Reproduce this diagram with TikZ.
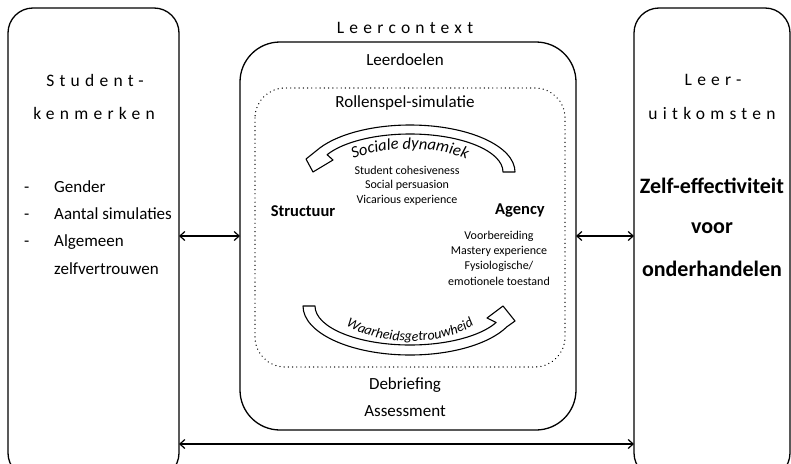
\documentclass[tikz,border=0pt]{standalone}
\usepackage{fontspec}
\setmainfont{Carlito}
\usetikzlibrary{arrows.meta,decorations.text}

\newcommand{\fs}[1]{\fontsize{#1}{#1}\selectfont}
\newcommand{\spaced}{\addfontfeature{LetterSpace=30}}

\tikzset{
  panel/.style={draw, line width=1.3pt, rounded corners=#1},
  dotbox/.style={draw, line width=1.4pt, dash pattern=on 0.01pt off 4.2pt, line cap=round, rounded corners=30pt},
  link/.style={line width=1.2pt, {Straight Barb[length=5pt,width=9pt]}-{Straight Barb[length=5pt,width=9pt]}},
  band/.style={draw, line width=1.1pt, fill=white, line join=round},
  title/.style={font=\fs{17.5}\spaced, inner sep=0pt},
  label/.style={font=\fs{17}, inner sep=0pt},
  listitem/.style={font=\fs{17}, inner sep=0pt, anchor=base west},
  small/.style={font=\fs{12}, inner sep=0pt},
  strong/.style={font=\fs{16.5}\bfseries, inner sep=0pt},
  outcome/.style={font=\fs{22}\bfseries, inner sep=0pt},
}

\begin{document}
\begin{tikzpicture}[x=1pt, y=-1pt]
  \clip (0,0) rectangle (791,463);
  \fill[white] (0,0) rectangle (791,463);

  % three main panels and the inner simulation frame
  \draw[panel=25pt] (8,8) rectangle (179,478);
  \draw[panel=40pt] (240,42) rectangle (576,430);
  \draw[panel=25pt] (634,8) rectangle (790,478);
  \draw[dotbox] (255,88) rectangle (565,367);

  % connector end points on the panel borders
  \coordinate (skL) at (179,236);
  \coordinate (lcL) at (240,236);
  \coordinate (lcR) at (576,236);
  \coordinate (luR) at (634,236);
  \coordinate (skB) at (179,444);
  \coordinate (luB) at (634,444);
  \draw[link] (skL) -- (lcL);
  \draw[link] (lcR) -- (luR);
  \draw[link] (skB) -- (luB);

  % student characteristics
  \node[title] (sk1) at (95,80) {Student-};
  \node[title] (sk2) at (94,113) {kenmerken};
  \node[listitem] (d1) at (24,192) {-};
  \node[listitem] (d2) at (24,219) {-};
  \node[listitem] (d3) at (24,246) {-};
  \node[listitem] (g1) at (54,192) {Gender};
  \node[listitem] (g2) at (54,219) {Aantal simulaties};
  \node[listitem] (g3) at (54,246) {Algemeen};
  \node[listitem] (g4) at (54,274) {zelfvertrouwen};

  % learning context
  \node[title] (lc) at (405,28) {Leercontext};
  \node[label] (ld) at (405,60) {Leerdoelen};
  \node[label] (rs) at (405,103) {Rollenspel-simulatie};
  \node[small] (c1) at (407,170) {Student cohesiveness};
  \node[small] (c2) at (407,185) {Social persuasion};
  \node[small] (c3) at (407,200) {Vicarious experience};
  \node[strong] (st) at (303,211) {Structuur};
  \node[strong] (ag) at (520,211) {Agency};
  \node[small] (a1) at (499,236) {Voorbereiding};
  \node[small] (a2) at (499,251) {Mastery experience};
  \node[small] (a3) at (499,266) {Fysiologische/};
  \node[small] (a4) at (499,281) {emotionele toestand};
  \node[label] (db) at (405,385) {Debriefing};
  \node[label] (as) at (405,411) {Assessment};

  % curved block arrow: social dynamics (right to left, over the top)
  \draw[band]
    (515,172) .. controls (515,146) and (468,125) .. (410,125)
              .. controls (370.5,125) and (334.3,135) .. (316.4,150.7)
    -- (306,159) -- (313,172) -- (333,160) -- (327.1,154.7)
              .. controls (343,142) and (375,134) .. (410,134)
              .. controls (461.4,134) and (503,151) .. (503,172)
    -- cycle;
  \path[decorate, decoration={text along path, text align=center,
      text={|\itshape\fs{16.5}|Sociale dynamiek}}]
    (328,185) .. controls (328,165.1) and (364.7,149) .. (410,149)
              .. controls (455.3,149) and (492,165.1) .. (492,185);

  % curved block arrow: fidelity (left to right, under the bottom)
  \draw[band]
    (303,306) .. controls (303,333.1) and (350.9,355) .. (410,355)
              .. controls (451.6,355) and (489.4,344) .. (507,326.7)
    -- (515,321) -- (503,306) -- (487,318) -- (496.1,322.5)
              .. controls (480.5,336.2) and (446.9,345) .. (410,345)
              .. controls (357.5,345) and (315,327.5) .. (315,306)
    -- cycle;
  \path[decorate, decoration={text along path, text align=center,
      text={|\itshape\fs{14}|Waarheidsgetrouwheid}}]
    (328,299) .. controls (328,322.2) and (364.7,341) .. (410,341)
              .. controls (455.3,341) and (492,322.2) .. (492,299);

  % learning outcomes
  \node[title] (lu1) at (713,80) {Leer-};
  \node[title] (lu2) at (712,113) {uitkomsten};
  \node[outcome] (z1) at (712,186) {Zelf-effectiviteit};
  \node[outcome] (z2) at (712,228) {voor};
  \node[outcome] (z3) at (712,269) {onderhandelen};
\end{tikzpicture}
\end{document}
